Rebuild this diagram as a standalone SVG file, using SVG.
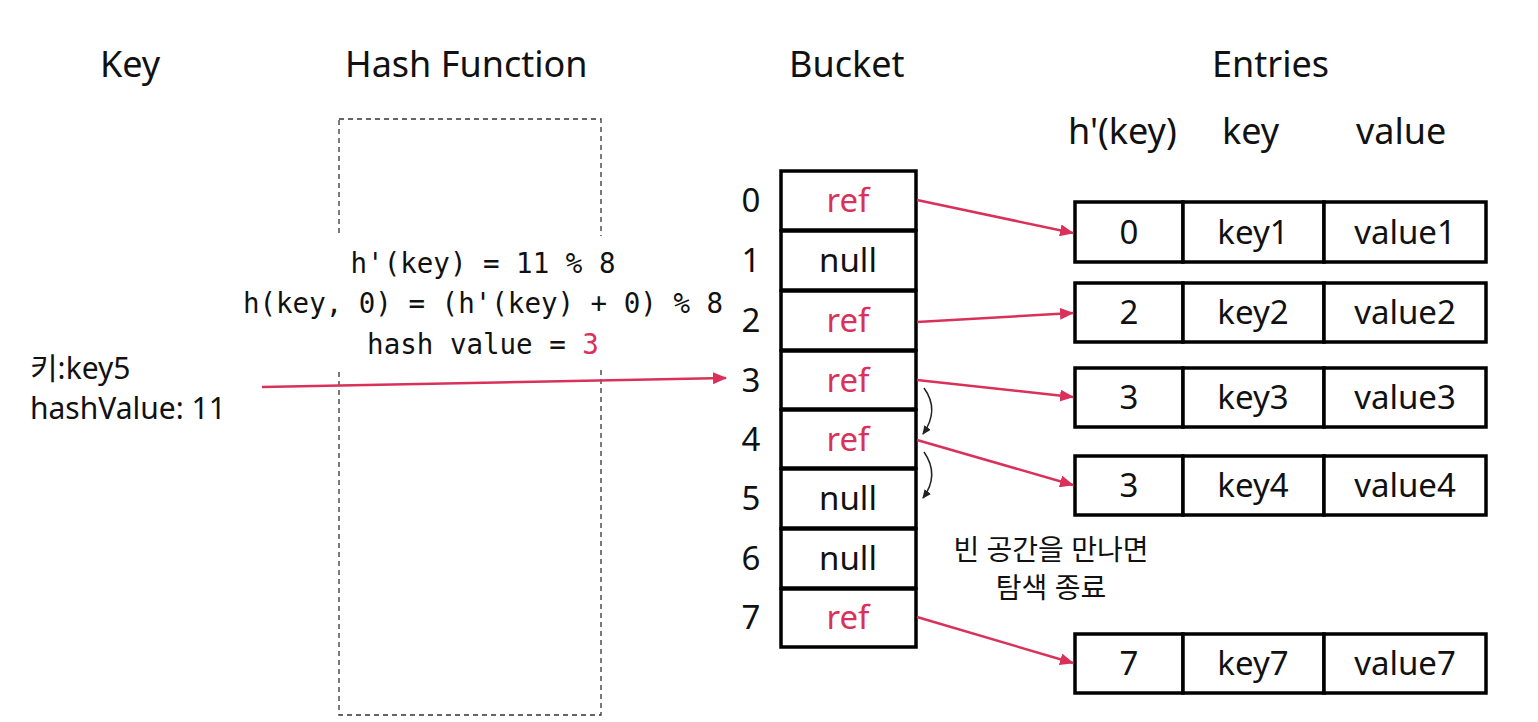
<svg xmlns="http://www.w3.org/2000/svg" width="1538" height="722" viewBox="0 0 1538 722">
<style>
.t{font-family:"Noto Sans","Noto Sans CJK KR",sans-serif;fill:#111}
.h{font-size:36px}
.c{font-size:33px;text-anchor:middle}
.m{font-family:"DejaVu Sans Mono",monospace;font-size:27.5px;text-anchor:middle;fill:#111}
.red{fill:#d9315a}
.cell{fill:#fff;stroke:#000;stroke-width:3.5}
.arr{stroke:#d9315a;stroke-width:2.5;fill:none;marker-end:url(#ah)}
.cur{stroke:#222;stroke-width:1.5;fill:none;marker-end:url(#bh)}
</style>
<defs>
<marker id="ah" markerWidth="14" markerHeight="12" refX="13" refY="6" orient="auto" markerUnits="userSpaceOnUse"><path d="M0,0 L14,6 L0,12 z" fill="#d9315a"/></marker>
<marker id="bh" markerWidth="9" markerHeight="8" refX="8" refY="4" orient="auto" markerUnits="userSpaceOnUse"><path d="M0,0 L9,4 L0,8 z" fill="#222"/></marker>
</defs>
<rect width="1538" height="722" fill="#fff"/>
<g id="headers">
<text class="t h" x="100" y="77">Key</text>
<text class="t h" x="345" y="77">Hash Function</text>
<text class="t h" x="789" y="77">Bucket</text>
<text class="t h" x="1212" y="77">Entries</text>
<text class="t h" x="1068" y="144">h'(key)</text>
<text class="t h" x="1222" y="144">key</text>
<text class="t h" x="1356" y="144">value</text>
</g>
<g id="hashfn">
<rect x="339" y="119" width="262" height="596" fill="none" stroke="#333" stroke-width="1.3" stroke-dasharray="5,4"/>
<rect x="330" y="236" width="280" height="132" fill="#fff"/>
<text class="m" x="483" y="273">h'(key) = 11 % 8</text>
<text class="m" x="483" y="313">h(key, 0) = (h'(key) + 0) % 8</text>
<text class="m" x="483" y="354">hash value = <tspan class="red">3</tspan></text>
</g>
<g id="key">
<text class="t" style="font-size:30px" x="30" y="379">키:key5</text>
<text class="t" style="font-size:30px" x="30" y="419">hashValue: 11</text>
</g>
<g id="bucket">
<rect class="cell" x="781" y="171" width="135" height="59"/>
<rect class="cell" x="781" y="231" width="135" height="59"/>
<rect class="cell" x="781" y="291" width="135" height="59"/>
<rect class="cell" x="781" y="351" width="135" height="58"/>
<rect class="cell" x="781" y="410" width="135" height="58"/>
<rect class="cell" x="781" y="469" width="135" height="59"/>
<rect class="cell" x="781" y="529" width="135" height="59"/>
<rect class="cell" x="781" y="589" width="135" height="58"/>
<g class="t c">
<text x="751" y="212">0</text><text x="751" y="272">1</text><text x="751" y="332">2</text><text x="751" y="392">3</text>
<text x="751" y="451">4</text><text x="751" y="510">5</text><text x="751" y="570">6</text><text x="751" y="629">7</text>
<text x="848" y="212" class="red">ref</text><text x="848" y="272">null</text><text x="848" y="332" class="red">ref</text><text x="848" y="392" class="red">ref</text>
<text x="848" y="451" class="red">ref</text><text x="848" y="510">null</text><text x="848" y="570">null</text><text x="848" y="629" class="red">ref</text>
</g>
</g>
<g id="entries">
<g id="e0"><rect class="cell" x="1075" y="202" width="108" height="60"/><rect class="cell" x="1183" y="202" width="141" height="60"/><rect class="cell" x="1324" y="202" width="162" height="60"/>
<text class="t c" x="1129" y="244">0</text><text class="t c" x="1253" y="244">key1</text><text class="t c" x="1405" y="244">value1</text></g>
<g id="e2"><rect class="cell" x="1075" y="283" width="108" height="59"/><rect class="cell" x="1183" y="283" width="141" height="59"/><rect class="cell" x="1324" y="283" width="162" height="59"/>
<text class="t c" x="1129" y="324">2</text><text class="t c" x="1253" y="324">key2</text><text class="t c" x="1405" y="324">value2</text></g>
<g id="e3"><rect class="cell" x="1075" y="368" width="108" height="59"/><rect class="cell" x="1183" y="368" width="141" height="59"/><rect class="cell" x="1324" y="368" width="162" height="59"/>
<text class="t c" x="1129" y="409">3</text><text class="t c" x="1253" y="409">key3</text><text class="t c" x="1405" y="409">value3</text></g>
<g id="e4"><rect class="cell" x="1075" y="456" width="108" height="59"/><rect class="cell" x="1183" y="456" width="141" height="59"/><rect class="cell" x="1324" y="456" width="162" height="59"/>
<text class="t c" x="1129" y="497">3</text><text class="t c" x="1253" y="497">key4</text><text class="t c" x="1405" y="497">value4</text></g>
<g id="e7"><rect class="cell" x="1075" y="634" width="108" height="59"/><rect class="cell" x="1183" y="634" width="141" height="59"/><rect class="cell" x="1324" y="634" width="162" height="59"/>
<text class="t c" x="1129" y="675">7</text><text class="t c" x="1253" y="675">key7</text><text class="t c" x="1405" y="675">value7</text></g>
</g>
<g id="note">
<text class="t" style="font-size:28px;text-anchor:middle" x="1051" y="560">빈 공간을 만나면</text>
<text class="t" style="font-size:28px;text-anchor:middle" x="1051" y="598">탐색 종료</text>
</g>
<g id="connectors">
<path class="arr" d="M262,387 L726,378"/>
<path class="arr" d="M917,200 L1073,233"/>
<path class="arr" d="M917,322 L1073,313"/>
<path class="arr" d="M917,380 L1073,397"/>
<path class="arr" d="M917,440 L1073,485"/>
<path class="arr" d="M917,617 L1073,663"/>
<path class="cur" d="M924,388 Q940,410 923,434"/>
<path class="cur" d="M924,452 Q940,475 923,498"/>
</g>
</svg>
